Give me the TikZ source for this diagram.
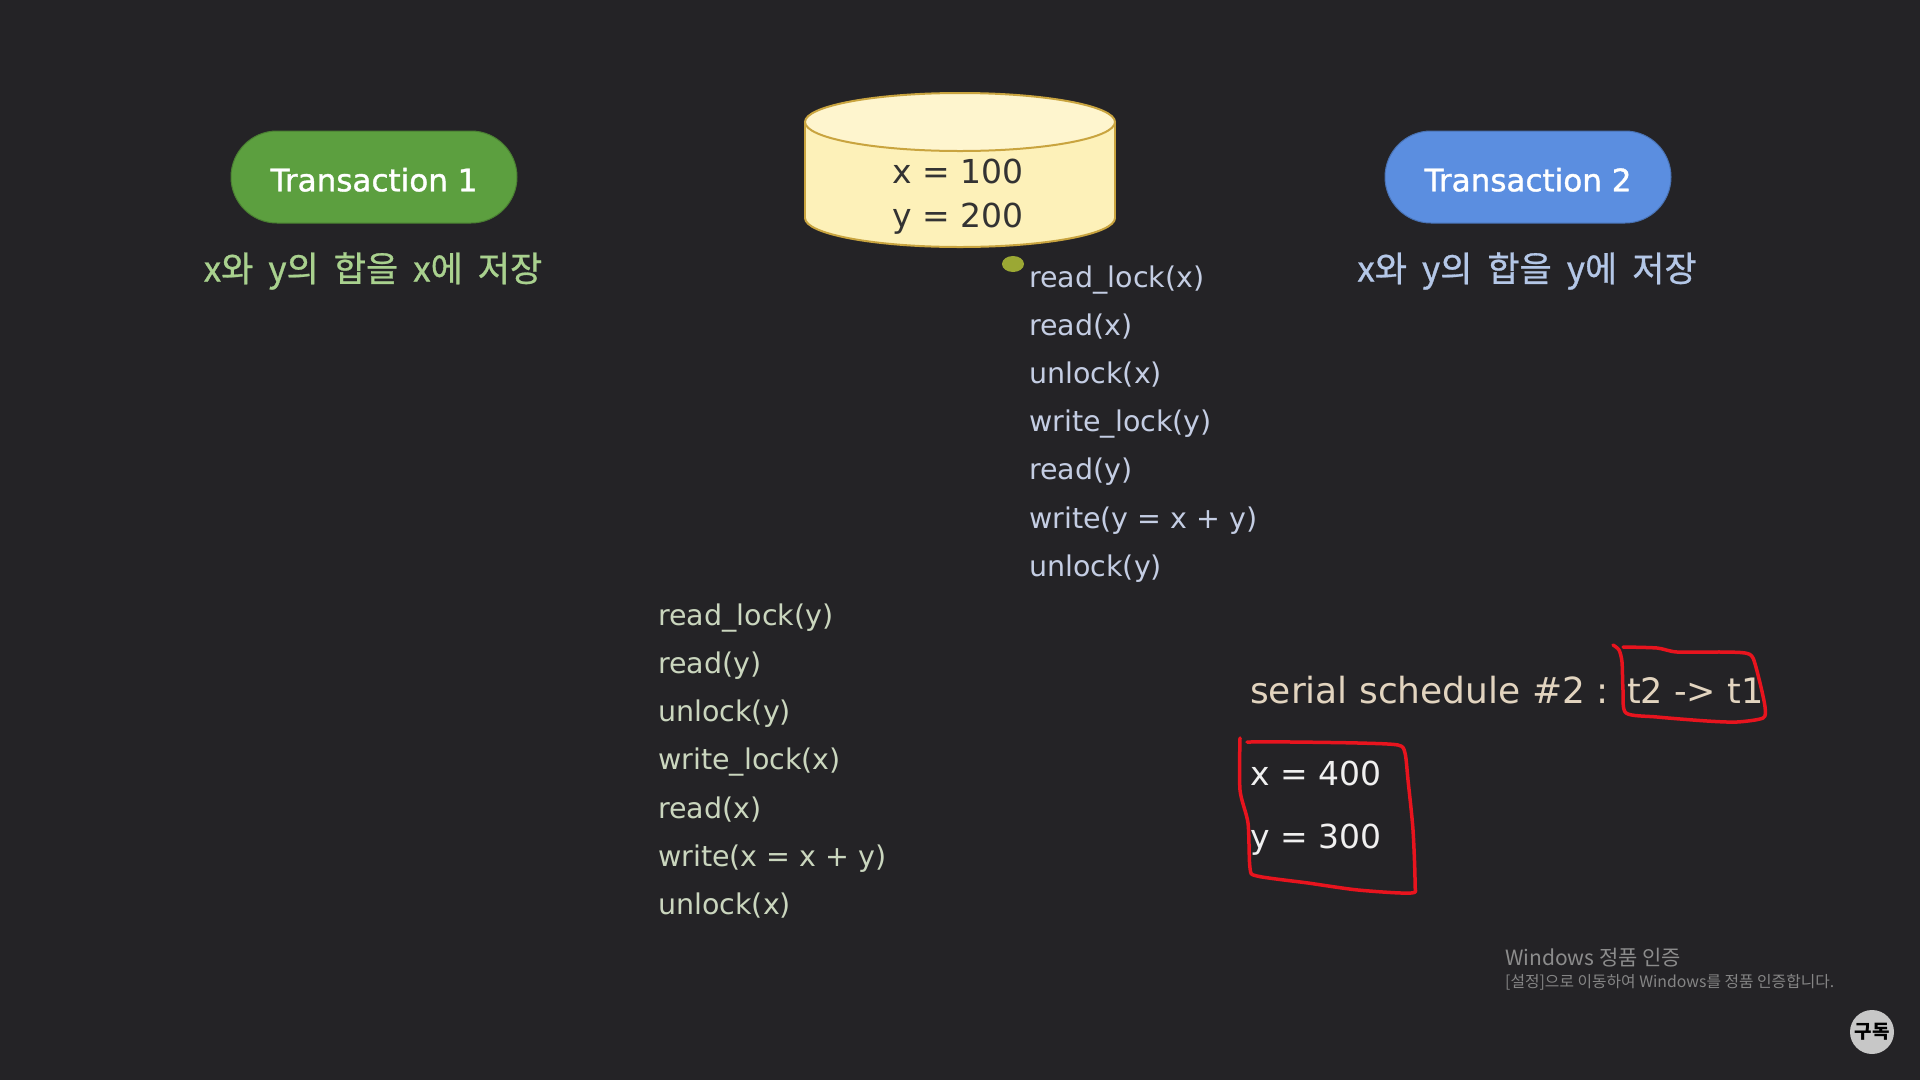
\documentclass[tikz,border=0pt]{standalone}
\usepackage{fontspec}
\setmainfont{DejaVu Sans}
\newfontfamily\kr{Noto Sans CJK KR}
\newfontfamily\krsub[FakeBold=0.8]{Noto Sans CJK KR}
\newfontfamily\semibold[FakeBold=1.2]{DejaVu Sans}
\newcommand\widesubspace{\spaceskip=15pt\relax}
\definecolor{bg}{HTML}{242326}
\definecolor{pillgreen}{HTML}{5C9F3F}
\definecolor{pillblue}{HTML}{5B8EE0}
\definecolor{subgreen}{HTML}{A9D18E}
\definecolor{subblue}{HTML}{B4C7E7}
\definecolor{listgreen}{HTML}{CAD6BE}
\definecolor{listblue}{HTML}{C4CDE3}
\definecolor{cylfill}{HTML}{FDF1B9}
\definecolor{cylline}{HTML}{C9A43F}
\definecolor{beige}{HTML}{E2D4BF}
\definecolor{pen}{HTML}{E8141E}
\definecolor{dotc}{HTML}{9BA834}
\definecolor{wm}{HTML}{8C8C8C}
\begin{document}
\begin{tikzpicture}[x=1pt,y=-1pt,
  pill/.style={rounded corners=46pt, minimum width=286pt, minimum height=92pt, inner sep=0pt, text=white, text height=28.6pt, text depth=0pt, font=\semibold\fontsize{31}{36}\selectfont},
  subtitle/.style={inner sep=0pt, font=\krsub\fontsize{35}{40}\selectfont\widesubspace},
  listitem/.style={anchor=base west, inner sep=0pt, font=\fontsize{28.5}{34}\selectfont},
  valtext/.style={anchor=base west, inner sep=0pt, text=white!94!black, font=\fontsize{33}{38}\selectfont},
  schedtext/.style={anchor=base west, inner sep=0pt, text=beige, font=\fontsize{36}{40}\selectfont},
  redpen/.style={draw=pen, line width=3.5pt, line cap=round, line join=round}]
\fill[bg] (0,0) rectangle (1920,1080);
\useasboundingbox (0,0) rectangle (1920,1080);

% Transaction pills
\node[pill, fill=pillgreen, draw=pillgreen!80!black, line width=1pt] (t1) at (374,177) {Transaction 1};
\node[pill, fill=pillblue, draw=pillblue!80!black, line width=1pt] (t2) at (1528,177) {Transaction 2};
\node[subtitle, text=subgreen] (t1sub) at (373,271) {x와 y의 합을 x에 저장};
\node[subtitle, text=subblue] (t2sub) at (1527,271) {x와 y의 합을 y에 저장};

% Database cylinder
\fill[cylfill] (805,122) rectangle (1115,218);
\fill[cylfill] (960,218) ellipse [x radius=155, y radius=29];
\begin{scope}
  \clip (795,218) rectangle (1125,260);
  \draw[cylline, line width=2pt] (960,218) ellipse [x radius=155, y radius=29];
\end{scope}
\draw[cylline, line width=2pt] (805,122) -- (805,218) (1115,122) -- (1115,218);
\draw[cylline, line width=2pt, fill=cylfill!70!white] (960,122) ellipse [x radius=155, y radius=29];
\node[anchor=base, inner sep=0pt, text=black!80, font=\fontsize{33}{38}\selectfont] (dbx) at (958,183) {x = 100};
\node[anchor=base, inner sep=0pt, text=black!80, font=\fontsize{33}{38}\selectfont] (dby) at (958,227) {y = 200};

% pointer dot
\fill[dotc] (1013,264) ellipse [x radius=11, y radius=8];

% Transaction 2 operations
\node[listitem, text=listblue] (b1) at (1029,287.0) {read\_lock(x)};
\node[listitem, text=listblue] (b2) at (1029,335.2) {read(x)};
\node[listitem, text=listblue] (b3) at (1029,383.4) {unlock(x)};
\node[listitem, text=listblue] (b4) at (1029,431.6) {write\_lock(y)};
\node[listitem, text=listblue] (b5) at (1029,479.8) {read(y)};
\node[listitem, text=listblue] (b6) at (1029,528.0) {write(y = x + y)};
\node[listitem, text=listblue] (b7) at (1029,576.2) {unlock(y)};

% Transaction 1 operations
\node[listitem, text=listgreen] (a1) at (658,625.0) {read\_lock(y)};
\node[listitem, text=listgreen] (a2) at (658,673.3) {read(y)};
\node[listitem, text=listgreen] (a3) at (658,721.6) {unlock(y)};
\node[listitem, text=listgreen] (a4) at (658,769.9) {write\_lock(x)};
\node[listitem, text=listgreen] (a5) at (658,818.2) {read(x)};
\node[listitem, text=listgreen] (a6) at (658,866.5) {write(x = x + y)};
\node[listitem, text=listgreen] (a7) at (658,914.8) {unlock(x)};

% serial schedule
\node[schedtext] (sched) at (1250,703) {serial schedule \#2 :};
\node[schedtext, font=\fontsize{35}{40}\selectfont] (order) at (1627,703) {t2 -> t1};
\node[valtext] (rx) at (1250,785) {x = 400};
\node[valtext] (ry) at (1250,848) {y = 300};

% red hand-drawn marks
\draw[redpen] plot[smooth, tension=0.45] coordinates {(1613,645) (1619,650) (1622,662) (1623,690) (1626,713) (1657,717) (1707,721) (1737,722) (1763,718) (1765,707) (1760,683) (1753,658) (1745,653) (1723,652) (1677,652) (1657,648) (1623,647)};
\draw[redpen] plot[smooth, tension=0.45] coordinates {(1240,738) (1240,790) (1248,823) (1250,868) (1257,876) (1308,883) (1358,890) (1411,893) (1415,884) (1413,830) (1408,780) (1405,753) (1398,745) (1358,743) (1292,742) (1247,742)};

% watermark
\node[anchor=west, inner sep=0pt, text=wm, font=\kr\fontsize{21}{24}\selectfont] (wm1) at (1505,958) {Windows 정품 인증};
\node[anchor=west, inner sep=0pt, text=wm!95!black, font=\kr\fontsize{15.8}{18}\selectfont] (wm2) at (1505,982) {[설정]으로 이동하여 Windows를 정품 인증합니다.};

% subscribe badge
\node[circle, fill=black!22, minimum size=44pt, inner sep=0pt, font=\kr\bfseries\fontsize{19}{22}\selectfont, text=black] (sub) at (1872,1032) {구독};
\end{tikzpicture}
\end{document}
